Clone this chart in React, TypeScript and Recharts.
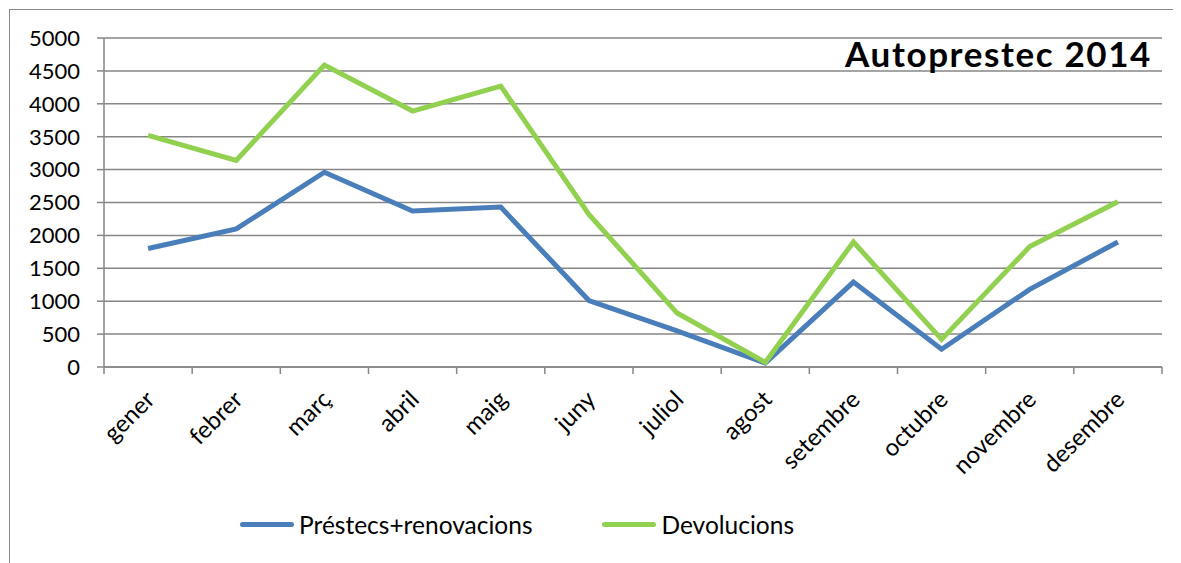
import { LineChart, Line, XAxis, YAxis, CartesianGrid, Legend } from 'recharts';

const months = [
  'gener', 'febrer', 'març', 'abril', 'maig', 'juny',
  'juliol', 'agost', 'setembre', 'octubre', 'novembre', 'desembre',
];
const prestecs = [1800, 2100, 2960, 2370, 2430, 1010, 550, 60, 1290, 270, 1180, 1900];
const devolucions = [3520, 3140, 4590, 3890, 4270, 2320, 820, 70, 1900, 420, 1830, 2510];
const yTicks = [0, 500, 1000, 1500, 2000, 2500, 3000, 3500, 4000, 4500, 5000];

const BLUE = '#4a7ebb';
const GREEN = '#92d050';
const GREY = '#868686';
const FONT = 'Lato';

const WIDTH = 1172;
const HEIGHT = 560;
const MARGIN = { top: 28, right: 20, left: 0, bottom: 83 };
const Y_WIDTH = 94;
const STEP = (WIDTH - MARGIN.right - MARGIN.left - Y_WIDTH) / months.length;

const data = months.map((m, i) => ({
  month: m,
  prestecs: prestecs[i],
  devolucions: devolucions[i],
}));

const MonthTick = (props: any) => {
  const { x, y, payload, index } = props;
  const left = x - STEP / 2;
  const tx = x + 8;
  const ty = y + 34;
  return (
    <g>
      <line x1={left} y1={y} x2={left} y2={y + 7} stroke={GREY} strokeWidth={1.5} />
      {index === months.length - 1 && (
        <line x1={x + STEP / 2} y1={y} x2={x + STEP / 2} y2={y + 7} stroke={GREY} strokeWidth={1.5} />
      )}
      <text
        x={tx}
        y={ty}
        textAnchor="end"
        transform={`rotate(-45, ${tx}, ${ty})`}
        fontSize={24}
        fontFamily={FONT}
        fill="#000"
      >
        {payload.value}
      </text>
    </g>
  );
};

const LegendContent = () => {
  const items = [
    { label: 'Préstecs+renovacions', color: BLUE },
    { label: 'Devolucions', color: GREEN },
  ];
  return (
    <div style={{ display: 'flex', fontFamily: FONT, fontSize: 24.5, color: '#000' }}>
      {items.map((it, i) => (
        <div key={it.label} style={{ display: 'flex', alignItems: 'center', marginLeft: i ? 70 : 0 }}>
          <span style={{ width: 54, height: 5, background: it.color, borderRadius: 3, marginRight: 5 }} />
          <span>{it.label}</span>
        </div>
      ))}
    </div>
  );
};

const App = () => {
  return (
    <div
      style={{
        position: 'relative',
        width: WIDTH,
        height: HEIGHT,
        border: `1px solid ${GREY}`,
        marginLeft: 1,
        marginTop: 1,
        background: '#fff',
      }}
    >
      <div
        style={{
          position: 'absolute',
          right: WIDTH - 1142,
          top: 22,
          fontFamily: FONT,
          fontWeight: 700,
          fontSize: 35,
          letterSpacing: 1.6,
          color: '#000',
          zIndex: 2,
        }}
      >
        Autoprestec 2014
      </div>
      <LineChart width={WIDTH} height={HEIGHT} data={data} margin={MARGIN}>
        <CartesianGrid vertical={false} stroke={GREY} strokeWidth={1.5} />
        <XAxis
          dataKey="month"
          height={120}
          interval={0}
          padding={{ left: STEP / 2, right: STEP / 2 }}
          axisLine={{ stroke: GREY, strokeWidth: 1.5 }}
          tickLine={false}
          tickSize={0}
          tickMargin={0}
          tick={<MonthTick />}
        />
        <YAxis
          width={Y_WIDTH}
          domain={[0, 5000]}
          ticks={yTicks}
          interval={0}
          axisLine={{ stroke: GREY, strokeWidth: 1.5 }}
          tickLine={{ stroke: GREY, strokeWidth: 1.5 }}
          tickSize={7}
          tickMargin={17}
          tick={{ fontSize: 22, fontFamily: FONT, fill: '#000' }}
        />
        <Legend
          layout="horizontal"
          verticalAlign="middle"
          content={<LegendContent />}
          wrapperStyle={{ position: 'absolute', left: 230, top: 500, width: 'auto' }}
        />
        <Line
          type="linear"
          dataKey="prestecs"
          name="Préstecs+renovacions"
          stroke={BLUE}
          strokeWidth={5}
          dot={false}
          isAnimationActive={false}
        />
        <Line
          type="linear"
          dataKey="devolucions"
          name="Devolucions"
          stroke={GREEN}
          strokeWidth={5}
          dot={false}
          isAnimationActive={false}
        />
      </LineChart>
    </div>
  );
};

export default App;
